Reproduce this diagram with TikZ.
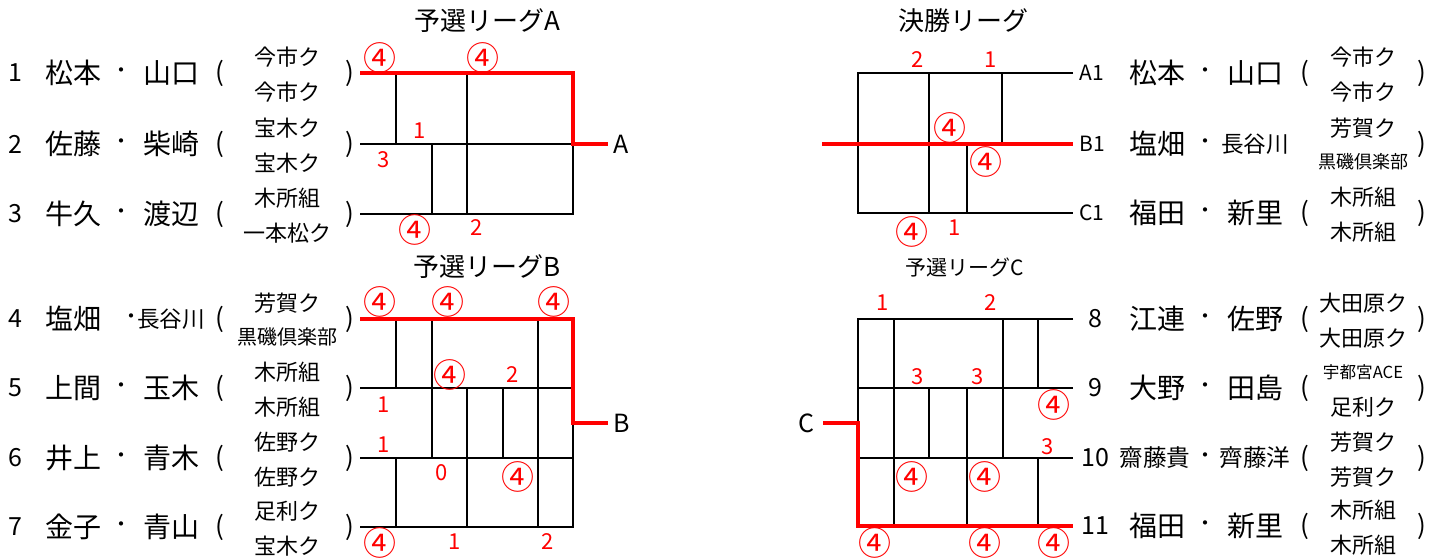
\documentclass[tikz,border=0pt]{standalone}
\usepackage{fontspec}
\setmainfont{Noto Sans CJK JP}
\usetikzlibrary{positioning}
\definecolor{Wcolor}{HTML}{FF0000}
\newcommand{\fsz}[1]{\fontsize{#1}{#1}\selectfont}

\begin{document}
\begin{tikzpicture}[x=0.5pt, y=-0.5pt,
  num/.style={font=\fsz{12.5}, inner sep=0},
  player/.style={font=\fsz{14}, inner sep=0},
  paren/.style={font=\fsz{13}, inner sep=0},
  sep/.style={font=\fsz{10}, inner sep=0},
  club/.style={font=\fsz{11}, inner sep=0},
  title/.style={font=\fsz{13}, inner sep=0},
  score/.style={font=\fsz{11}, text=Wcolor, inner sep=0},
  win/.style={font=\fsz{16.5}, text=Wcolor, inner sep=0},
  ln/.style={line width=0.8pt},
  rln/.style={draw=Wcolor, line width=2pt},
]
  \useasboundingbox (0,0) rectangle (1444,558);

  % titles
  \node[title] (tA) at (487,21) {予選リーグA};
  \node[title] (tB) at (487,267) {予選リーグB};
  \node[title] (tF) at (963,21) {決勝リーグ};
  \node[title, font=\fsz{10.5}] (tC) at (965,267) {予選リーグC};

  % left players
  \foreach \k/\y/\na/\nb/\ca/\cb in {1/73/松本/山口/今市ク/今市ク, 2/144/佐藤/柴崎/宝木ク/宝木ク,
      3/214/牛久/渡辺/木所組/一本松ク, 5/388/上間/玉木/木所組/木所組,
      6/458/井上/青木/佐野ク/佐野ク, 7/527/金子/青山/足利ク/宝木ク} {
    \node[num] (n\k) at (15,\y) {\k};
    \node[player] (pa\k) at (73,\y) {\na};
    \node[sep] (d\k) at (121,\y) {・};
    \node[player] (pb\k) at (171,\y) {\nb};
    \node[paren] (lp\k) at (220,\y) {(};
    \node[club] (ca\k) at (287,\y-16) {\ca};
    \node[club] (cb\k) at (287,\y+19) {\cb};
    \node[paren] (rp\k) at (350,\y) {)};
  }
  \node[num] (n4) at (15,319) {4};
  \node[player] (pa4) at (73,319) {塩畑};
  \node[sep] (d4) at (131,319) {・};
  \node[player, font=\fsz{11.3}] (pb4) at (171,319) {長谷川};
  \node[paren] (lp4) at (220,319) {(};
  \node[club] (ca4) at (287,303) {芳賀ク};
  \node[club, font=\fsz{10}] (cb4) at (287,337) {黒磯倶楽部};
  \node[paren] (rp4) at (350,319) {)};

  % final league players
  \foreach \k/\y/\na/\nb/\ca/\cb in {A1/73/松本/山口/今市ク/今市ク, C1/213/福田/新里/木所組/木所組} {
    \node[font=\fsz{10.5}, inner sep=3pt, anchor=west] (f\k) at (1073,\y) {\k};
    \node[player] (pa\k) at (1157,\y) {\na};
    \node[sep] (d\k) at (1205,\y) {・};
    \node[player] (pb\k) at (1255,\y) {\nb};
    \node[paren] (lp\k) at (1305,\y) {(};
    \node[club] (ca\k) at (1363,\y-16) {\ca};
    \node[club] (cb\k) at (1363,\y+19) {\cb};
    \node[paren] (rp\k) at (1422,\y) {)};
  }
  \node[font=\fsz{10.5}, inner sep=3pt, anchor=west] (fB1) at (1073,144) {B1};
  \node[player] (paB1) at (1157,144) {塩畑};
  \node[sep] (dB1) at (1205,144) {・};
  \node[player, font=\fsz{11.3}] (pbB1) at (1255,144) {長谷川};
  \node[club] (caB1) at (1363,128) {芳賀ク};
  \node[club, font=\fsz{9}] (cbB1) at (1363,162) {黒磯倶楽部};
  \node[paren] (rpB1) at (1422,144) {)};

  % league C players
  \foreach \k/\y/\na/\nb/\ca/\cb in {8/319/江連/佐野/大田原ク/大田原ク, 11/526/福田/新里/木所組/木所組} {
    \node[num] (n\k) at (1095,\y) {\k};
    \node[player] (pa\k) at (1157,\y) {\na};
    \node[sep] (d\k) at (1205,\y) {・};
    \node[player] (pb\k) at (1255,\y) {\nb};
    \node[paren] (lp\k) at (1305,\y) {(};
    \node[club] (ca\k) at (1363,\y-16) {\ca};
    \node[club] (cb\k) at (1363,\y+19) {\cb};
    \node[paren] (rp\k) at (1422,\y) {)};
  }
  \node[num] (n9) at (1095,388) {9};
  \node[player] (pa9) at (1157,388) {大野};
  \node[sep] (d9) at (1205,388) {・};
  \node[player] (pb9) at (1255,388) {田島};
  \node[paren] (lp9) at (1305,388) {(};
  \node[club, font=\fsz{8.3}] (ca9) at (1363,372) {宇都宮ACE};
  \node[club] (cb9) at (1363,407) {足利ク};
  \node[paren] (rp9) at (1422,388) {)};

  \node[num] (n10) at (1095,458) {10};
  \node[player, font=\fsz{11.8}] (pa10) at (1155,458) {齋藤貴};
  \node[sep] (d10) at (1205,458) {・};
  \node[player, font=\fsz{11.8}] (pb10) at (1255,458) {齊藤洋};
  \node[paren] (lp10) at (1305,458) {(};
  \node[club] (ca10) at (1363,442) {芳賀ク};
  \node[club] (cb10) at (1363,477) {芳賀ク};
  \node[paren] (rp10) at (1422,458) {)};

  % labels of the leagues
  \node[font=\fsz{12.5}, inner sep=2.5pt, anchor=west] (labA) at (608,144) {A};
  \node[font=\fsz{12.5}, inner sep=2.5pt, anchor=west] (labB) at (608,423) {B};
  \node[font=\fsz{12.5}, inner sep=4pt, anchor=east] (labC) at (823,423) {C};

  % league A
  \draw[ln] (360,144) -- (573,144);
  \draw[ln] (360,214) -- (573,214) -- (573,144);
  \draw[ln] (396,73) -- (396,144);
  \draw[ln] (467,73) -- (467,214);
  \draw[ln] (432,144) -- (432,214);
  \draw[rln] (360,73) -- (573,73) -- (573,144) -- (labA.west);

  % league B
  \draw[ln] (360,388) -- (573,388);
  \draw[ln] (360,458) -- (573,458);
  \draw[ln] (360,527) -- (573,527) -- (573,423);
  \draw[ln] (396,319) -- (396,388);
  \draw[ln] (396,458) -- (396,527);
  \draw[ln] (432,319) -- (432,458);
  \draw[ln] (467,388) -- (467,527);
  \draw[ln] (503,388) -- (503,458);
  \draw[ln] (538,319) -- (538,527);
  \draw[rln] (360,319) -- (573,319) -- (573,423) -- (labB.west);

  % final league
  \draw[ln] (fA1.west) -- (858,73) -- (858,213) -- (fC1.west);
  \draw[ln] (929,73) -- (929,213);
  \draw[ln] (1002,73) -- (1002,144);
  \draw[ln] (967,144) -- (967,213);
  \draw[rln] (822,144) -- (fB1.west);

  % league C
  \draw[ln] (1073,319) -- (858,319) -- (858,423);
  \draw[ln] (858,388) -- (1073,388);
  \draw[ln] (858,458) -- (1073,458);
  \draw[ln] (894,319) -- (894,526);
  \draw[ln] (929,388) -- (929,458);
  \draw[ln] (967,388) -- (967,526);
  \draw[ln] (1003,319) -- (1003,458);
  \draw[ln] (1038,319) -- (1038,388);
  \draw[ln] (1038,458) -- (1038,526);
  \draw[rln] (labC.east) -- (858,423) -- (858,526) -- (1073,526);

  % results
  \foreach \x/\y [count=\i] in {380/58, 483/58, 415/230, 380/302, 448/302, 554/302, 450/375,
      518/477, 380/543, 950/128, 986/162, 912/232, 1054/405, 912/477, 985/477,
      875/543, 985/543, 1054/543}
    \node[win] (w\i) at (\x,\y) {④};
  \foreach \x/\y/\s [count=\i] in {420/131/1, 384/160/3, 477/228/2, 513/375/2, 384/405/1,
      384/445/1, 442/473/0, 455/542/1, 548/542/2, 918/60/2, 991/60/1, 955/228/1,
      883/303/1, 991/303/2, 918/377/3, 978/377/3, 1048/447/3}
    \node[score] (s\i) at (\x,\y) {\s};
\end{tikzpicture}
\end{document}
